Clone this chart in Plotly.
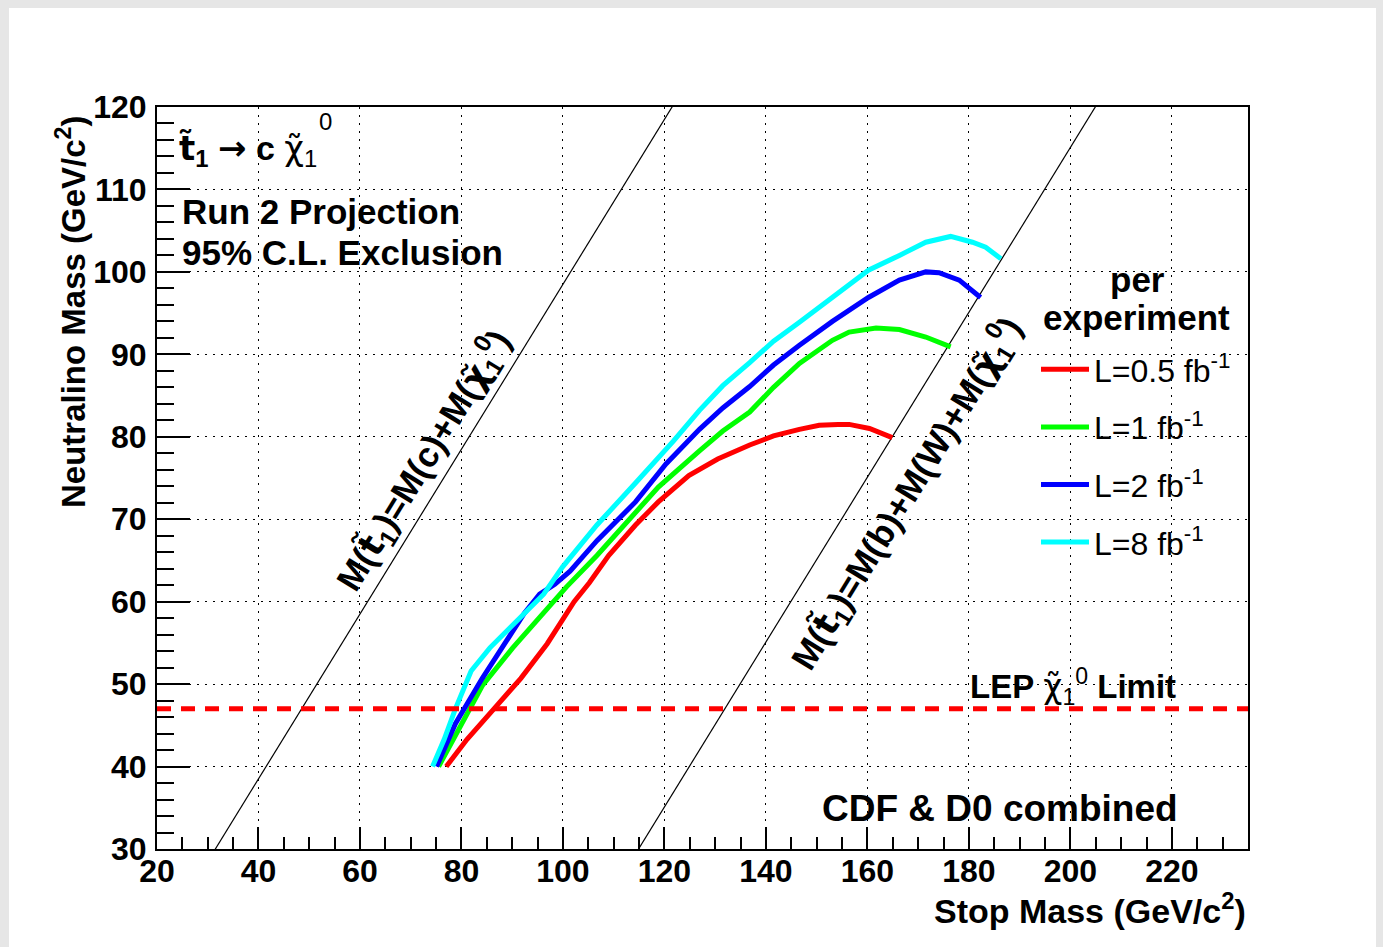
import plotly.graph_objects as go

# ---------------- data ----------------
red_x = [77.0, 81.1, 86.4, 91.7, 96.9, 99.9, 102.2, 105.2, 109.0, 114.3, 118.8, 124.8,
         130.5, 136.8, 141.5, 146.6, 150.5, 154.2, 156.4, 160.4, 164.9]
red_y = [40.0, 43.3, 47.0, 50.7, 54.9, 57.7, 60.0, 62.3, 65.6, 69.3, 72.1, 75.3,
         77.3, 79.0, 80.1, 80.9, 81.4, 81.5, 81.5, 81.0, 79.9]

green_x = [75.5, 79.6, 84.1, 90.1, 95.4, 100.7, 106.7, 112.7, 118.8, 126.9, 131.5,
           136.8, 141.5, 146.6, 153.1, 156.4, 161.7, 166.3, 171.5, 176.4]
green_y = [40.0, 44.7, 49.8, 54.4, 58.1, 61.8, 65.6, 69.7, 73.9, 78.3, 80.7,
           83.0, 86.0, 88.9, 91.7, 92.7, 93.2, 93.0, 92.1, 90.9]

blue_x = [75.1, 78.8, 84.1, 88.6, 92.4, 95.4, 98.4, 101.4, 106.7, 114.3, 120.3, 126.9,
          131.5, 136.8, 141.5, 146.6, 153.1, 160.2, 166.3, 171.5, 174.1, 178.1, 182.3]
blue_y = [40.0, 45.2, 50.7, 54.9, 58.6, 60.9, 62.1, 63.7, 67.4, 72.1, 76.7, 80.9,
          83.5, 86.1, 88.7, 91.1, 94.0, 96.9, 99.0, 100.0, 99.9, 99.0, 96.9]

cyan_x = [74.3, 76.6, 78.8, 81.9, 85.6, 91.7, 96.2, 99.9, 106.7, 114.3, 121.8, 126.9,
          131.5, 136.8, 141.5, 146.6, 153.1, 160.2, 166.3, 171.5, 176.4, 180.7, 183.3, 186.3]
cyan_y = [40.0, 43.3, 47.0, 51.6, 54.4, 58.1, 60.9, 64.2, 69.3, 74.4, 79.5, 83.2,
          86.2, 89.0, 91.6, 93.9, 96.9, 100.2, 102.0, 103.6, 104.3, 103.6, 103.0, 101.6]

series_names = ["L=0.5 fb<sup>-1</sup>", "L=1 fb<sup>-1</sup>",
                "L=2 fb<sup>-1</sup>", "L=8 fb<sup>-1</sup>"]

lep_limit = 47.0      # GeV/c^2
m_c = 1.5             # charm mass
m_b = 4.5             # bottom mass
m_W = 80.4            # W mass

x_range = [20, 235]
y_range = [30, 120]

# ---------------- layout geometry ----------------
W, H = 1383, 947
ML, MR, MT, MB = 157, 135, 107, 98
PW, PH = W - ML - MR, H - MT - MB


def px_x(p):
    return (p - ML) / PW


def px_y(p):
    return (H - MB - p) / PH


FONT = "Liberation Sans, Arial, Helvetica, sans-serif"
DJ = '<span style="font-family:DejaVu Sans">'
colors = ["#ff0000", "#00ff00", "#0000ff", "#00ffff"]

CHI = DJ + "χ̃</span>"
TST = DJ + "t̃</span>"

fig = go.Figure()

# kinematic boundary lines
xl = list(x_range)
fig.add_trace(go.Scatter(x=xl, y=[v - m_c for v in xl], mode="lines",
                         line=dict(color="black", width=1.2),
                         showlegend=False, hoverinfo="skip"))
fig.add_trace(go.Scatter(x=xl, y=[v - m_b - m_W for v in xl], mode="lines",
                         line=dict(color="black", width=1.2),
                         showlegend=False, hoverinfo="skip"))

# exclusion curves
for name, xs, ys, col in zip(series_names, [red_x, green_x, blue_x, cyan_x],
                             [red_y, green_y, blue_y, cyan_y], colors):
    fig.add_trace(go.Scatter(x=xs, y=ys, mode="lines", name=name,
                             legendgroup=name,
                             line=dict(color=col, width=5)))

# LEP limit
fig.add_trace(go.Scatter(x=xl, y=[lep_limit, lep_limit], mode="lines",
                         line=dict(color="#ff0000", width=5, dash="14px,10px"),
                         showlegend=False, hoverinfo="skip"))

axis_common = dict(
    showline=True, linecolor="black", linewidth=2, mirror=True,
    ticks="inside", tickcolor="black", tickwidth=1.5,
    showgrid=True, gridcolor="black", gridwidth=1.2, griddash="2px,6px",
    zeroline=False,
    tickfont=dict(family=FONT, size=32, color="black", weight="bold"),
)

fig.update_xaxes(range=x_range, tickmode="linear", tick0=20, dtick=20, ticklen=22,
                 ticklabelstandoff=-7,
                 minor=dict(dtick=5, tick0=20, ticks="inside", ticklen=12,
                            tickwidth=1.5, tickcolor="black", showgrid=False),
                 **axis_common)
fig.update_yaxes(range=y_range, tickmode="linear", tick0=30, dtick=10, ticklen=33,
                 ticklabelstandoff=2,
                 minor=dict(dtick=2, tick0=30, ticks="inside", ticklen=17,
                            tickwidth=1.5, tickcolor="black", showgrid=False),
                 **axis_common)

ann = []


def add_ann(text, x, y, size=34, xanchor="left", yanchor="middle", angle=0):
    ann.append(dict(text=text, x=x, y=y, xref="paper", yref="paper", showarrow=False,
                    xanchor=xanchor, yanchor=yanchor, textangle=angle,
                    font=dict(family=FONT, size=size, color="black")))


# axis titles
add_ann("<b>Stop Mass (GeV/c<sup>2</sup>)</b>", 1.0, px_y(908), xanchor="right")
add_ann("<b>Neutralino Mass (GeV/c<sup>2</sup>)</b>", px_x(71), px_y(312),
        xanchor="center", angle=-90, size=33)

# top-left labels
add_ann("<b>" + TST + "<sub>1</sub> " + DJ + "→</span> c</b> " + CHI + "<sub>1</sub>",
        px_x(177), px_y(150))
add_ann("0", px_x(317), px_y(121), size=24)
add_ann("<b>Run 2 Projection</b>", px_x(180), px_y(211), size=35)
add_ann("<b>95% C.L. Exclusion</b>", px_x(180), px_y(252), size=35)

# legend header
add_ann("<b>per</b>", px_x(1137), px_y(279), xanchor="center", size=35)
add_ann("<b>experiment</b>", px_x(1136), px_y(317), xanchor="center", size=35)

# other labels
add_ann("<b>LEP</b> " + CHI + "<sub>1</sub><sup>0</sup> <b>Limit</b>",
        px_x(968), px_y(686), size=33)
add_ann("<b>CDF & D0 combined</b>", px_x(1000), px_y(808), xanchor="center", size=37)

# boundary line labels (rotated along the lines)
add_ann("<b>M(" + TST + "<sub>1</sub>)=M(c)+M(" + CHI + "<sub>1</sub><sup>0</sup>)</b>",
        px_x(423), px_y(460), xanchor="center", angle=-58.4, size=35)
add_ann("<b>M(" + TST + "<sub>1</sub>)=M(b)+M(W)+M(" + CHI + "<sub>1</sub><sup>0</sup>)</b>",
        px_x(906), px_y(493), xanchor="center", angle=-58.4, size=35)

fig.update_layout(
    width=W, height=H,
    margin=dict(l=ML, r=MR, t=MT, b=MB, pad=0),
    paper_bgcolor="#e6e6e6",
    plot_bgcolor="white",
    annotations=ann,
    showlegend=True,
    legend=dict(x=px_x(1036), y=px_y(342), xanchor="left", yanchor="top",
                bgcolor="rgba(0,0,0,0)", borderwidth=0,
                font=dict(family=FONT, size=32, color="black"),
                tracegroupgap=13, itemwidth=48),
    shapes=[dict(type="rect", xref="paper", yref="paper", layer="below",
                 x0=px_x(9), x1=px_x(1376), y0=px_y(947), y1=px_y(8),
                 fillcolor="white", line=dict(width=0))],
)

fig.write_html("out.html")
